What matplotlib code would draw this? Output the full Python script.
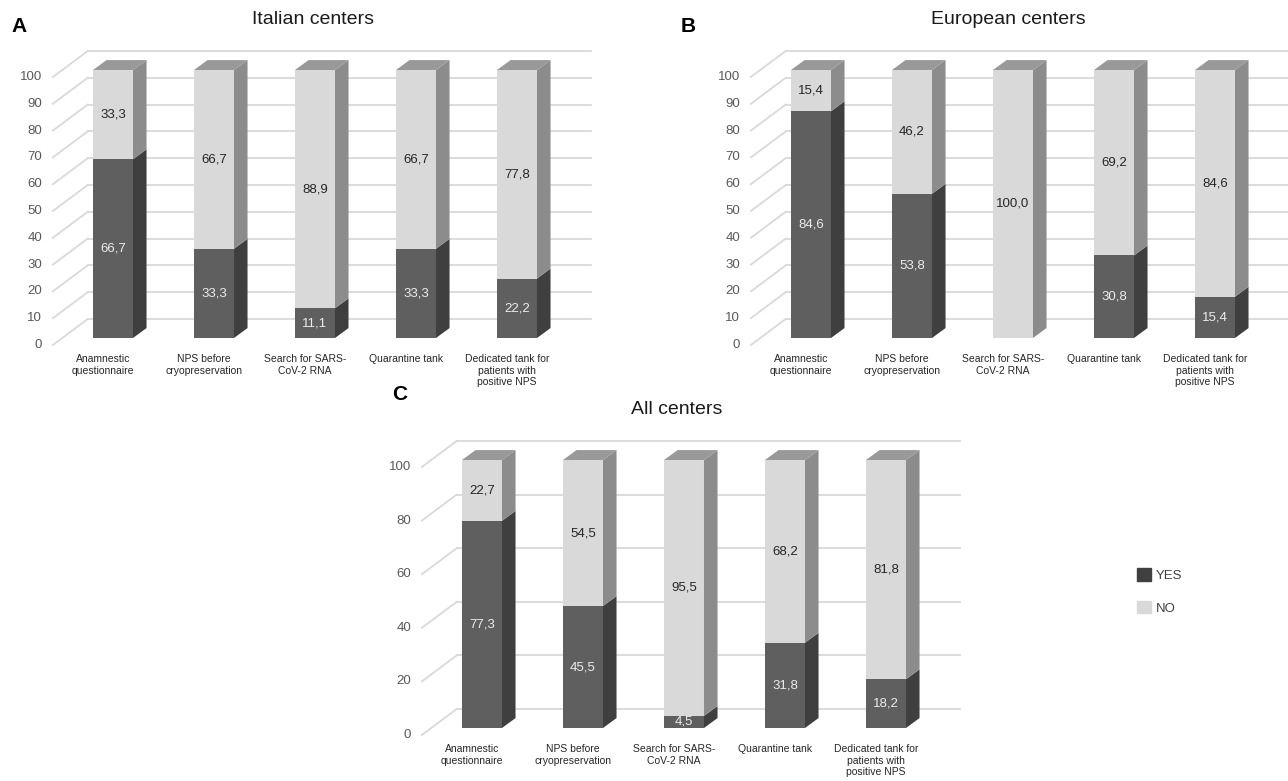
import matplotlib.pyplot as plt
from matplotlib.patches import Polygon, Patch

plt.rcParams['font.family'] = ['Liberation Sans', 'DejaVu Sans']

W, H = 1288, 781

categories = ["Anamnestic\nquestionnaire", "NPS before\ncryopreservation",
              "Search for SARS-\nCoV-2 RNA", "Quarantine tank",
              "Dedicated tank for\npatients with\npositive NPS"]

italian_yes = [66.7, 33.3, 11.1, 33.3, 22.2]
italian_no = [33.3, 66.7, 88.9, 66.7, 77.8]
european_yes = [84.6, 53.8, 0.0, 30.8, 15.4]
european_no = [15.4, 46.2, 100.0, 69.2, 84.6]
all_yes = [77.3, 45.5, 4.5, 31.8, 18.2]
all_no = [22.7, 54.5, 95.5, 68.2, 81.8]

ticks_ab = [0, 10, 20, 30, 40, 50, 60, 70, 80, 90, 100]
ticks_c = [0, 20, 40, 60, 80, 100]

YES_FRONT, YES_SIDE = '#5f5f5f', '#3f3f3f'
NO_FRONT, NO_SIDE = '#d9d9d9', '#8c8c8c'
TOP = '#999999'
GRID = '#d9d9d9'

# 3d look, in data units
BAR_W = 0.396
DX, DY = 0.134, 3.7          # bar depth
AX_FRONT_X, AX_BACK_X = -0.595, -0.25
AX_FRONT_DY, AX_BACK_DY = -2.6, 7.1
WALL_RIGHT = 4.73


def fmt(v):
    return f"{v:.1f}".replace('.', ',')


def make_axes(fig, x0, y0):
    # x0: pixel of first bar centre, y0: pixel (from top) of value 0
    xs, ys = 101.0, 2.68
    xlo, xhi, ylo, yhi = -1.0, 4.9, -12, 112
    left, right = x0 + xlo * xs, x0 + xhi * xs
    bottom, top = y0 - ylo * ys, y0 - yhi * ys
    ax = fig.add_axes([left / W, 1 - bottom / H, (right - left) / W, (bottom - top) / H])
    ax.set_xlim(xlo, xhi)
    ax.set_ylim(ylo, yhi)
    ax.axis('off')
    return ax


def draw_panel(ax, yes, no, ticks):
    x = list(range(len(yes)))
    # back wall gridlines + side wall diagonals
    for t in ticks:
        ax.plot([AX_BACK_X, WALL_RIGHT], [t + AX_BACK_DY] * 2, color=GRID, lw=1.3, zorder=1)
        ax.plot([AX_FRONT_X, AX_BACK_X], [t + AX_FRONT_DY, t + AX_BACK_DY],
                color=GRID, lw=1.3, zorder=1)
        ax.text(-0.70, t + AX_FRONT_DY, str(t), ha='right', va='center',
                fontsize=9.5, color='#595959')
    ax.bar(x, yes, width=BAR_W, color=YES_FRONT, zorder=3)
    ax.bar(x, no, bottom=yes, width=BAR_W, color=NO_FRONT, zorder=3)
    for i, (y1, y2) in enumerate(zip(yes, no)):
        r = i + BAR_W / 2
        l = i - BAR_W / 2
        for lo, hi, c in [(0, y1, YES_SIDE), (y1, y1 + y2, NO_SIDE)]:
            if hi > lo:
                ax.add_patch(Polygon([(r, lo), (r + DX, lo + DY), (r + DX, hi + DY), (r, hi)],
                                     closed=True, color=c, zorder=3, lw=0))
        top = y1 + y2
        ax.add_patch(Polygon([(l, top), (l + DX, top + DY), (r + DX, top + DY), (r, top)],
                             closed=True, color=TOP, zorder=3, lw=0))
        if y1 > 0:
            ax.text(i, y1 / 2, fmt(y1), ha='center', va='center', fontsize=9.5,
                    color='#ececec', zorder=4)
        if y2 > 0:
            ax.text(i, y1 + y2 / 2, fmt(y2), ha='center', va='center', fontsize=9.5,
                    color='#262626', zorder=4)
        ax.text(i - 0.1, -6.0, categories[i], ha='center', va='top', fontsize=7.5,
                linespacing=1.2, color='#262626')


fig = plt.figure(figsize=(W / 100, H / 100), dpi=100)

ax_a = make_axes(fig, 113, 338)
draw_panel(ax_a, italian_yes, italian_no, ticks_ab)
ax_b = make_axes(fig, 811, 338)
draw_panel(ax_b, european_yes, european_no, ticks_ab)
ax_c = make_axes(fig, 482, 728)
draw_panel(ax_c, all_yes, all_no, ticks_c)

for txt, px, py in [("Italian centers", 313, 20), ("European centers", 1008, 20),
                    ("All centers", 677, 410)]:
    fig.text(px / W, 1 - py / H, txt, ha='center', va='center', fontsize=14, color='#1a1a1a')
for txt, px, py in [("A", 19, 27), ("B", 688, 27), ("C", 400, 395)]:
    fig.text(px / W, 1 - py / H, txt, ha='center', va='center', fontsize=15,
             fontweight='bold', color='black')

handles = [Patch(color='#404040', label='YES'), Patch(color=NO_FRONT, label='NO')]
fig.legend(handles=handles, loc='upper left', bbox_to_anchor=(1125 / W, 1 - 556 / H),
           frameon=False, fontsize=9.5, handlelength=1.1, handleheight=1.1,
           handletextpad=0.35, labelspacing=1.45, labelcolor='#404040')

fig.savefig('out.png', dpi=100, facecolor='white')
